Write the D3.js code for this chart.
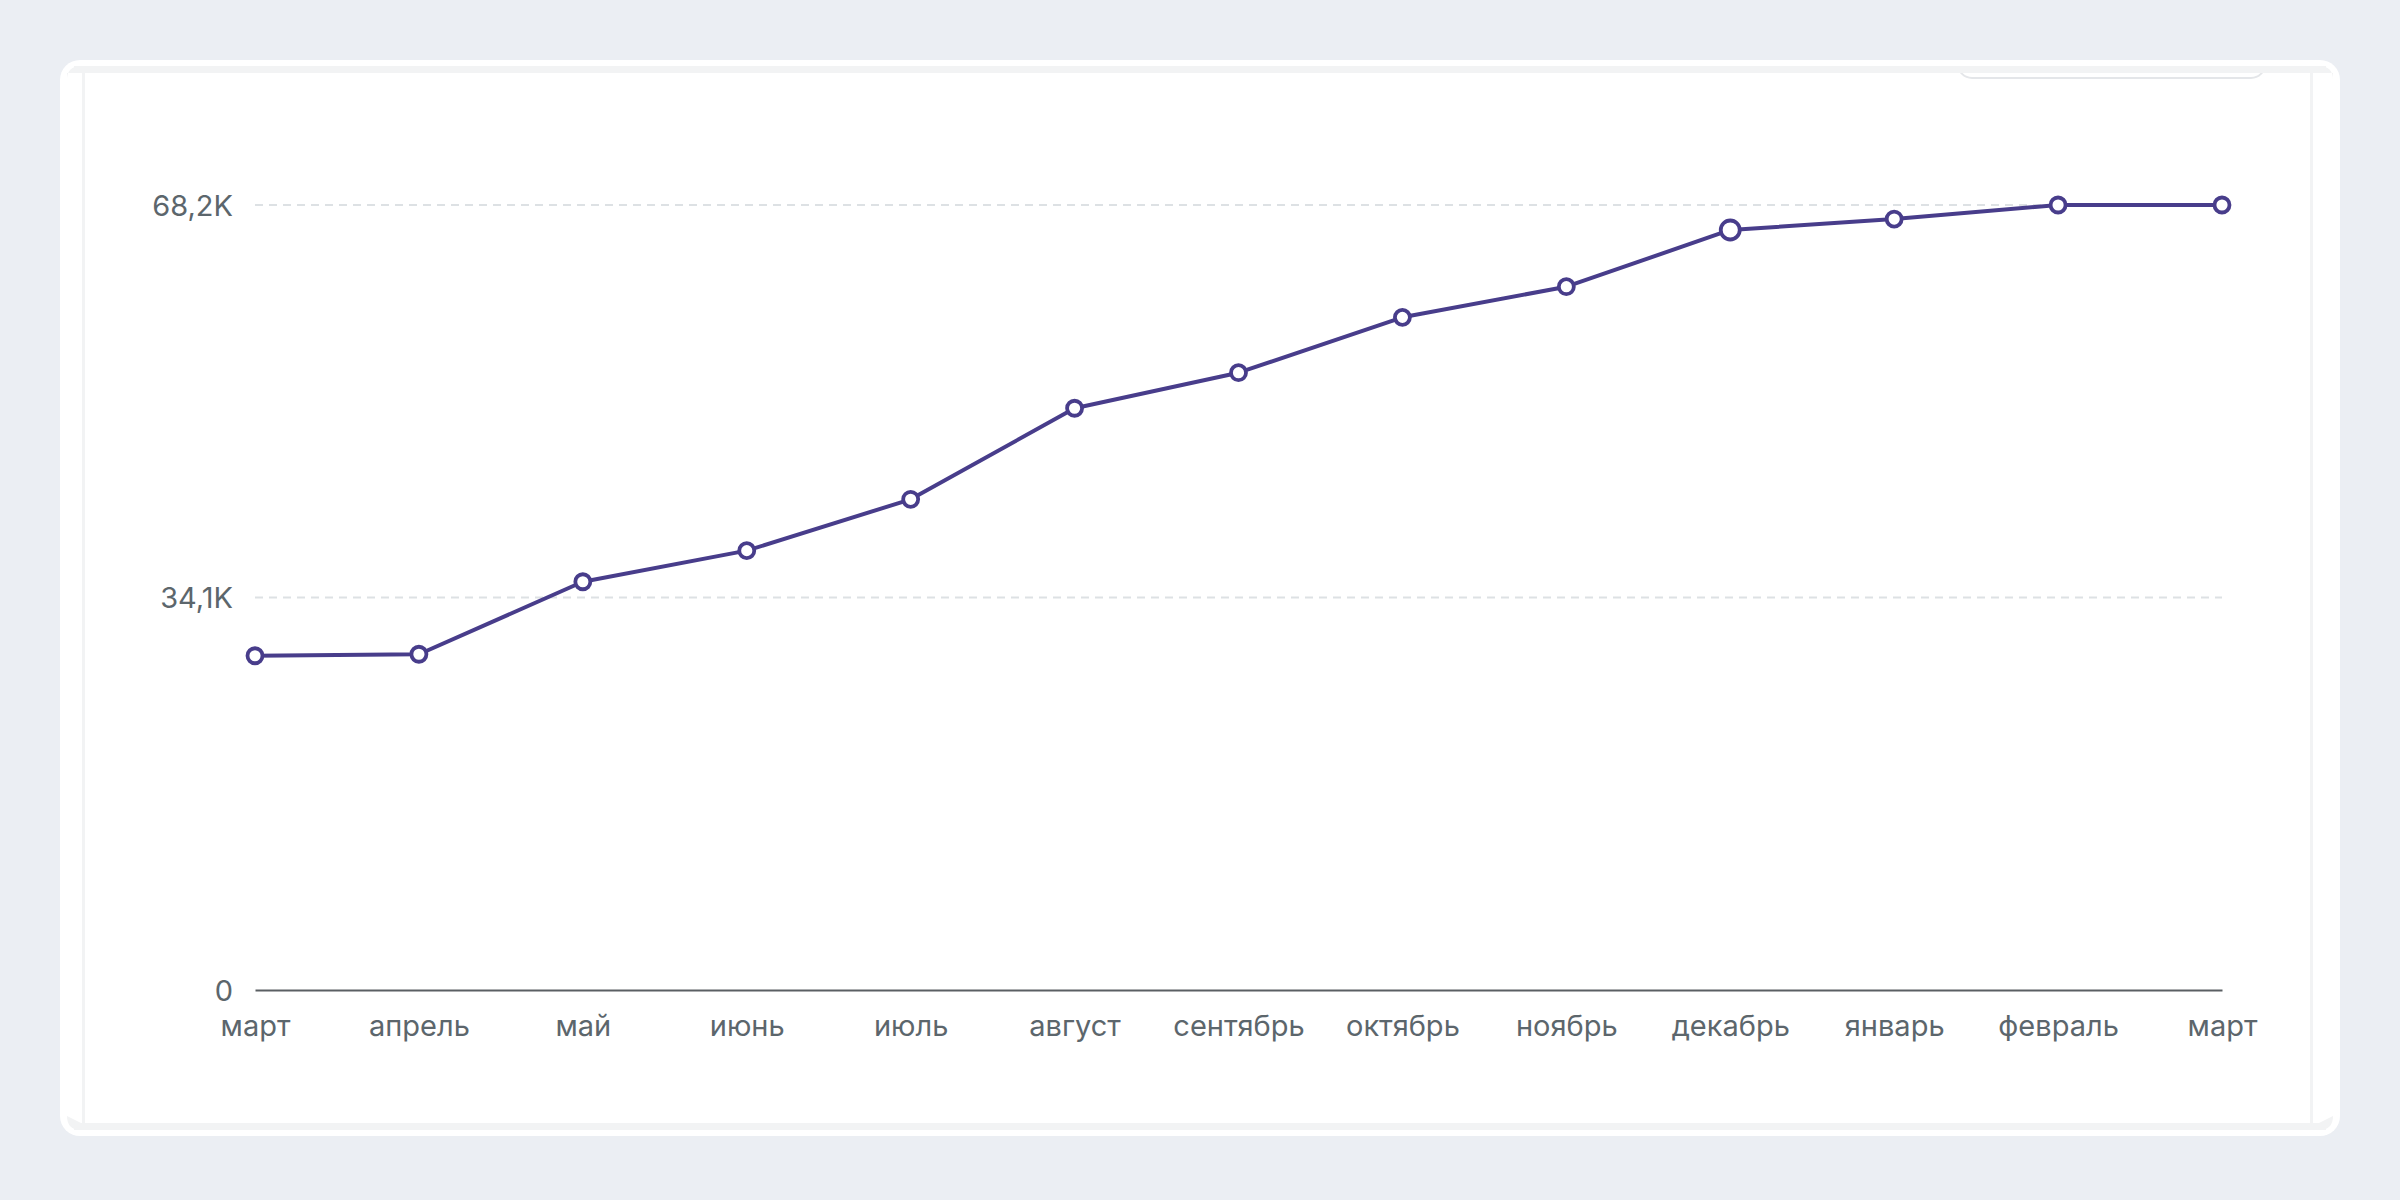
<!DOCTYPE html>
<html>
<head>
<meta charset="utf-8">
<script src="https://cdn.jsdelivr.net/npm/d3@7"></script>
<style>
  html, body { margin: 0; padding: 0; background: #ebeef3; }
  svg { display: block; }
  text { font-family: Inter, "Noto Sans", sans-serif; }
</style>
</head>
<body>
<svg id="chart" width="2400" height="1200"></svg>
<script>
// ---- data ----
const months = ["март", "апрель", "май", "июнь", "июль", "август", "сентябрь", "октябрь", "ноябрь", "декабрь", "январь", "февраль", "март"];
const values = [29040, 29170, 35470, 38170, 42630, 50540, 53630, 58440, 61100, 66030, 66980, 68200, 68200];
const yTickValues = [0, 34100, 68200];
const highlightIndex = 9;

// ---- layout ----
const svg = d3.select("#chart");
const W = 2400, H = 1200;
const plot = { left: 255, right: 2222, top: 205, bottom: 990 };

svg.append("rect").attr("width", W).attr("height", H).attr("fill", "#ebeef3");

// card
svg.append("rect").attr("x", 60).attr("y", 60).attr("width", 2280).attr("height", 1076)
  .attr("rx", 20).attr("fill", "#ffffff");

// clipped partial box at top-right
const defs = svg.append("defs");
defs.append("clipPath").attr("id", "topclip")
  .append("rect").attr("x", 0).attr("y", 73).attr("width", W).attr("height", 100);
svg.append("rect").attr("clip-path", "url(#topclip)")
  .attr("x", 1958).attr("y", 20).attr("width", 307).attr("height", 58).attr("rx", 14)
  .attr("fill", "#ffffff").attr("stroke", "#e4e6e9").attr("stroke-width", 2);

// inner frame
const frameCol = "#f2f3f4";
svg.append("path").attr("fill", frameCol)
  .attr("d", "M67,80 Q67,66 81,66 L2319,66 Q2333,66 2333,80 L2333,73 L67,73 Z");
svg.append("rect").attr("x", 74).attr("y", 66).attr("width", 2252).attr("height", 7).attr("fill", frameCol);
svg.append("rect").attr("x", 74).attr("y", 1123).attr("width", 2252).attr("height", 7).attr("fill", frameCol);
svg.append("path").attr("fill", frameCol)
  .attr("d", "M67,1116 Q67,1130 81,1130 L81,1123 Z");
svg.append("path").attr("fill", frameCol)
  .attr("d", "M2333,1116 Q2333,1130 2319,1130 L2319,1123 Z");
svg.append("rect").attr("x", 82).attr("y", 73).attr("width", 3).attr("height", 1050).attr("fill", frameCol);
svg.append("rect").attr("x", 2310).attr("y", 73).attr("width", 3).attr("height", 1050).attr("fill", frameCol);

// ---- scales ----
const x = d3.scalePoint().domain(d3.range(months.length)).range([plot.left, plot.right]);
const y = d3.scaleLinear().domain([0, 68200]).range([plot.bottom, plot.top]);

const fmt = v => v === 0 ? "0" : (v / 1000).toFixed(1).replace(".", ",") + "K";

// gridlines
svg.append("g").selectAll("line")
  .data(yTickValues.filter(v => v !== 0))
  .join("line")
  .attr("x1", plot.left).attr("x2", plot.right)
  .attr("y1", d => y(d)).attr("y2", d => y(d))
  .attr("stroke", "#dde1e4").attr("stroke-width", 2).attr("stroke-dasharray", "8,6");

// y axis
const yAxis = svg.append("g").attr("transform", `translate(${plot.left - 22},0)`)
  .call(d3.axisLeft(y).tickValues(yTickValues).tickFormat(fmt).tickSize(0).tickPadding(0));
yAxis.select(".domain").remove();
yAxis.selectAll("text")
  .attr("font-family", "Inter, 'Noto Sans', sans-serif")
  .attr("font-size", 29).attr("fill", "#5c666c").attr("dy", "0.35em");

// x axis
const xAxis = svg.append("g").attr("transform", `translate(0,${plot.bottom})`)
  .call(d3.axisBottom(x).tickFormat(i => months[i]).tickSize(0).tickSizeOuter(0));
xAxis.select(".domain").attr("stroke", "#5a5f63").attr("stroke-width", 2.2);
xAxis.selectAll("text")
  .attr("font-family", "Inter, 'Noto Sans', sans-serif")
  .attr("font-size", 29).attr("fill", "#5c666c")
  .attr("y", 46).attr("dy", 0);

// line
const line = d3.line().x((d, i) => x(i)).y(d => y(d));
svg.append("path").datum(values)
  .attr("d", line)
  .attr("fill", "none").attr("stroke", "#483d8b").attr("stroke-width", 4)
  .attr("stroke-linejoin", "round");

// markers
svg.append("g").selectAll("circle")
  .data(values)
  .join("circle")
  .attr("cx", (d, i) => x(i)).attr("cy", d => y(d))
  .attr("r", (d, i) => i === highlightIndex ? 9.5 : 7.5)
  .attr("fill", "#ffffff").attr("stroke", "#483d8b").attr("stroke-width", 3.8);
</script>
</body>
</html>
